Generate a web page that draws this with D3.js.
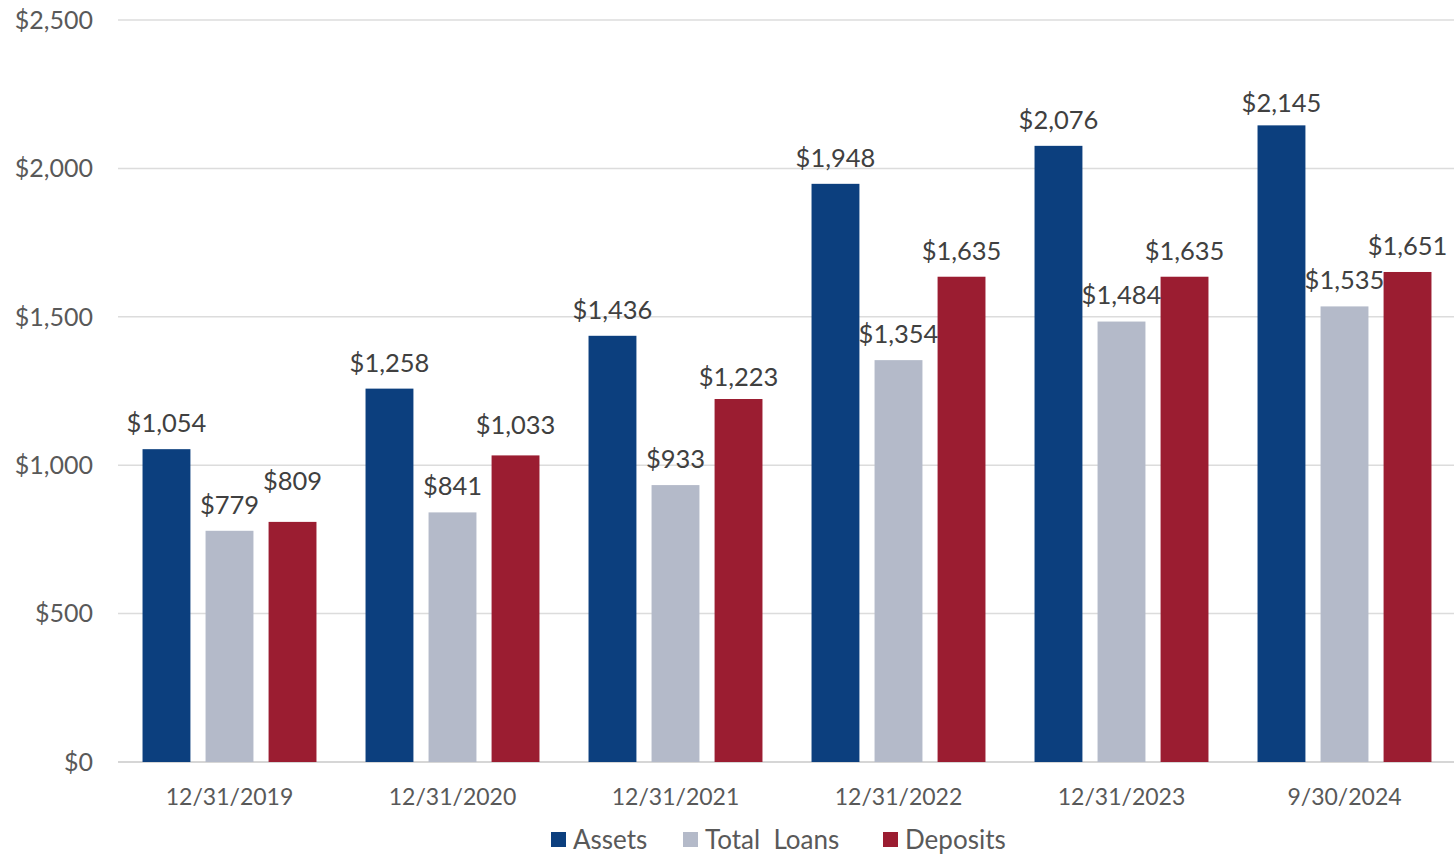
<!DOCTYPE html>
<html><head><meta charset="utf-8">
<script src="https://cdn.jsdelivr.net/npm/d3@7"></script>
<style>body{margin:0;background:#fff;} svg{display:block;font-family:Lato, "Open Sans", sans-serif;}</style>
</head><body>
<svg id="c" width="1454" height="857"></svg>
<script>
const categories = ["12/31/2019","12/31/2020","12/31/2021","12/31/2022","12/31/2023","9/30/2024"];
const seriesNames = ["Assets","Total  Loans","Deposits"];
const assets = [1054,1258,1436,1948,2076,2145];
const loans = [779,841,933,1354,1484,1535];
const deposits = [809,1033,1223,1635,1635,1651];
const yTicks = [0,500,1000,1500,2000,2500];
const colors = ["#0c3f7e","#b4bac9","#9b1d31"];

const series = [assets, loans, deposits];
// small manual label nudges (px) keyed "category-series", like the original's hand-placed labels
const labelNudge = {"0-2": -15, "1-2": -4, "2-2": 4, "5-0": 4};
const svg = d3.select("#c");
const mLeft = 118, mRight = 1456, mTop = 20, mBottom = 762;
const y = d3.scaleLinear().domain([0,2500]).range([mBottom, mTop]);
const x0 = d3.scaleBand().domain(categories).range([mLeft, mRight]).paddingInner(0.22).paddingOuter(0.11);
const x1 = d3.scaleBand().domain(d3.range(3)).range([0, x0.bandwidth()]).paddingInner(0.24);

// gridlines
svg.append("g").selectAll("line").data(yTicks).join("line")
  .attr("x1", mLeft).attr("x2", 1454)
  .attr("y1", d=>y(d)).attr("y2", d=>y(d))
  .attr("stroke", d=> d===0 ? "#c8c8c8" : "#dcdcdc").attr("stroke-width", 1.5);

// y labels
svg.append("g").selectAll("text").data(yTicks).join("text")
  .attr("x", 93).attr("y", d=>y(d)).attr("dy","0.35em")
  .attr("text-anchor","end").attr("fill","#595959").attr("font-size", 25)
  .text(d=>"$"+d3.format(",")(d));

// bars
categories.forEach((c,i)=>{
  const g = svg.append("g").attr("transform", `translate(${x0(c)},0)`);
  series.forEach((s,j)=>{
    g.append("rect").attr("x", x1(j)).attr("width", x1.bandwidth())
      .attr("y", y(s[i])).attr("height", y(0)-y(s[i])).attr("fill", colors[j]);
  });
  series.forEach((s,j)=>{
    const nud = labelNudge[i+"-"+j] || 0;
    g.append("text").attr("x", x1(j)+x1.bandwidth()/2).attr("y", y(s[i])-26+nud).attr("dy","0.35em")
      .attr("text-anchor","middle").attr("fill","#404040").attr("font-size", 25.5)
      .text("$"+d3.format(",")(s[i]));
  });
});

// x labels
svg.append("g").selectAll("text").data(categories).join("text")
  .attr("x", d=>x0(d)+x0.bandwidth()/2).attr("y", 797).attr("dy","0.35em")
  .attr("text-anchor","middle").attr("fill","#595959").attr("font-size", 23)
  .text(d=>d);

// legend
const legX = [551, 683, 883];
const leg = svg.append("g");
seriesNames.forEach((n,j)=>{
  leg.append("rect").attr("x", legX[j]).attr("y", 832).attr("width", 15).attr("height", 15).attr("fill", colors[j]);
  leg.append("text").attr("x", legX[j]+22).attr("y", 840).attr("dy","0.35em")
    .attr("fill","#595959").attr("font-size", 26).style("white-space","pre").text(n);
});
</script>
</body></html>
